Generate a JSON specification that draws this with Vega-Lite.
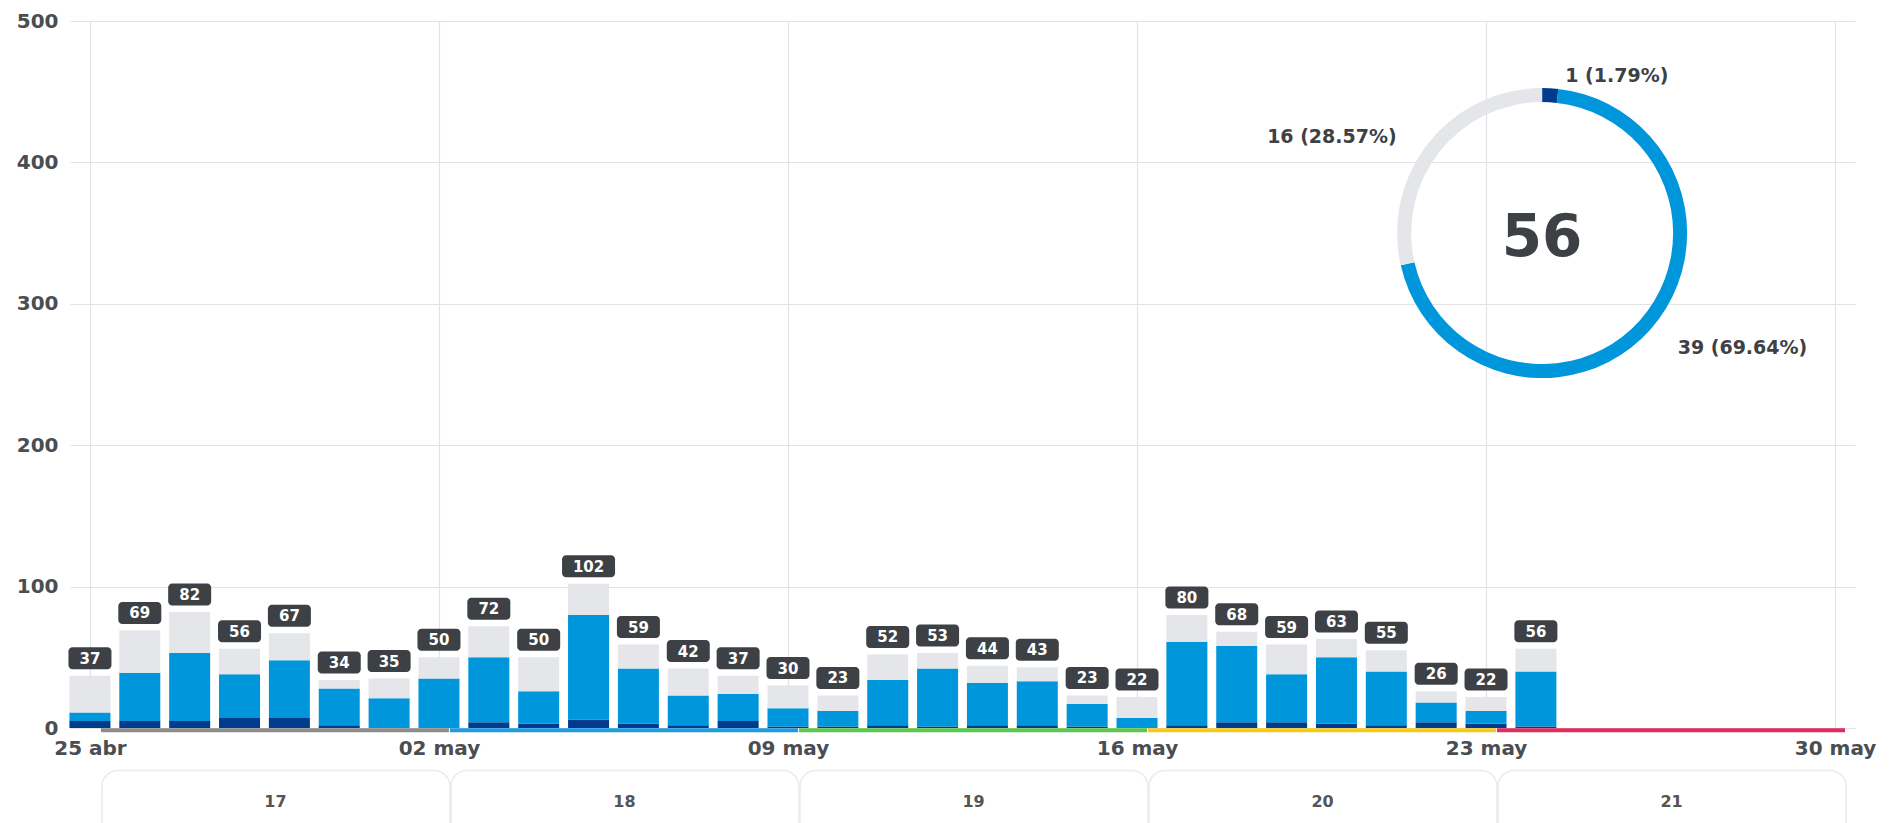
{
  "$schema": "https://vega.github.io/schema/vega-lite/v6.json",
  "width": 1785,
  "height": 707,
  "autosize": {"type": "none"},
  "padding": {"left": 70, "top": 21, "right": 43, "bottom": 95},
  "background": "#ffffff",
  "config": {
    "view": {"stroke": null},
    "font": "DejaVu Sans",
    "locale": {
      "time": {
        "dateTime": "%A, %e de %B de %Y, %X",
        "date": "%d/%m/%Y",
        "time": "%H:%M:%S",
        "periods": ["AM", "PM"],
        "days": ["domingo", "lunes", "martes", "miércoles", "jueves", "viernes", "sábado"],
        "shortDays": ["dom", "lun", "mar", "mié", "jue", "vie", "sáb"],
        "months": ["enero", "febrero", "marzo", "abril", "mayo", "junio", "julio", "agosto", "septiembre", "octubre", "noviembre", "diciembre"],
        "shortMonths": ["ene", "feb", "mar", "abr", "may", "jun", "jul", "ago", "sep", "oct", "nov", "dic"]
      }
    },
    "axis": {
      "domain": false,
      "ticks": false,
      "gridColor": "#e3e3e3",
      "gridWidth": 1.2,
      "labelFont": "DejaVu Sans",
      "labelFontWeight": "bold",
      "labelFontSize": 20,
      "labelColor": "#4a4d51"
    }
  },
  "datasets": {
    "diario": [
      {"fecha": "2021-04-25T00:00:00", "A": 5, "B": 6, "C": 26},
      {"fecha": "2021-04-26T00:00:00", "A": 5, "B": 34, "C": 30},
      {"fecha": "2021-04-27T00:00:00", "A": 5, "B": 48, "C": 29},
      {"fecha": "2021-04-28T00:00:00", "A": 7, "B": 31, "C": 18},
      {"fecha": "2021-04-29T00:00:00", "A": 7, "B": 41, "C": 19},
      {"fecha": "2021-04-30T00:00:00", "A": 2, "B": 26, "C": 6},
      {"fecha": "2021-05-01T00:00:00", "A": 0, "B": 21, "C": 14},
      {"fecha": "2021-05-02T00:00:00", "A": 0, "B": 35, "C": 15},
      {"fecha": "2021-05-03T00:00:00", "A": 4, "B": 46, "C": 22},
      {"fecha": "2021-05-04T00:00:00", "A": 3, "B": 23, "C": 24},
      {"fecha": "2021-05-05T00:00:00", "A": 6, "B": 74, "C": 22},
      {"fecha": "2021-05-06T00:00:00", "A": 3, "B": 39, "C": 17},
      {"fecha": "2021-05-07T00:00:00", "A": 2, "B": 21, "C": 19},
      {"fecha": "2021-05-08T00:00:00", "A": 5, "B": 19, "C": 13},
      {"fecha": "2021-05-09T00:00:00", "A": 1, "B": 13, "C": 16},
      {"fecha": "2021-05-10T00:00:00", "A": 1, "B": 11, "C": 11},
      {"fecha": "2021-05-11T00:00:00", "A": 2, "B": 32, "C": 18},
      {"fecha": "2021-05-12T00:00:00", "A": 1, "B": 41, "C": 11},
      {"fecha": "2021-05-13T00:00:00", "A": 2, "B": 30, "C": 12},
      {"fecha": "2021-05-14T00:00:00", "A": 2, "B": 31, "C": 10},
      {"fecha": "2021-05-15T00:00:00", "A": 1, "B": 16, "C": 6},
      {"fecha": "2021-05-16T00:00:00", "A": 0, "B": 7, "C": 15},
      {"fecha": "2021-05-17T00:00:00", "A": 2, "B": 59, "C": 19},
      {"fecha": "2021-05-18T00:00:00", "A": 4, "B": 54, "C": 10},
      {"fecha": "2021-05-19T00:00:00", "A": 4, "B": 34, "C": 21},
      {"fecha": "2021-05-20T00:00:00", "A": 3, "B": 47, "C": 13},
      {"fecha": "2021-05-21T00:00:00", "A": 2, "B": 38, "C": 15},
      {"fecha": "2021-05-22T00:00:00", "A": 4, "B": 14, "C": 8},
      {"fecha": "2021-05-23T00:00:00", "A": 3, "B": 9, "C": 10},
      {"fecha": "2021-05-24T00:00:00", "A": 1, "B": 39, "C": 16}
    ],
    "semanas": [
      {"semana": "17", "inicio": "2021-04-25T00:00:00"},
      {"semana": "18", "inicio": "2021-05-02T00:00:00"},
      {"semana": "19", "inicio": "2021-05-09T00:00:00"},
      {"semana": "20", "inicio": "2021-05-16T00:00:00"},
      {"semana": "21", "inicio": "2021-05-23T00:00:00"}
    ]
  },
  "layer": [
    {
      "data": {"name": "diario"},
      "transform": [{"fold": ["A", "B", "C"], "as": ["serie", "valor"]}],
      "mark": {"type": "bar", "width": 41},
      "encoding": {
        "x": {
          "field": "fecha",
          "type": "temporal",
          "title": null,
          "scale": {
            "domain": [
              {"year": 2021, "month": 4, "date": 24, "hours": 14, "minutes": 24},
              {"year": 2021, "month": 5, "date": 30, "hours": 9, "minutes": 36}
            ],
            "padding": 0
          },
          "axis": {
            "values": [
              {"year": 2021, "month": 4, "date": 25},
              {"year": 2021, "month": 5, "date": 2},
              {"year": 2021, "month": 5, "date": 9},
              {"year": 2021, "month": 5, "date": 16},
              {"year": 2021, "month": 5, "date": 23},
              {"year": 2021, "month": 5, "date": 30}
            ],
            "format": "%d %b",
            "labelPadding": 10,
            "labelFlush": false,
            "labelOverlap": false,
            "title": null
          }
        },
        "y": {
          "field": "valor",
          "type": "quantitative",
          "stack": "zero",
          "title": null,
          "scale": {"domain": [0, 500], "padding": 0},
          "axis": {"values": [0, 100, 200, 300, 400, 500], "labelPadding": 12, "title": null}
        },
        "color": {
          "field": "serie",
          "type": "nominal",
          "scale": {"domain": ["A", "B", "C"], "range": ["#003b8e", "#0096db", "#e4e6e9"]},
          "legend": null
        },
        "order": {"field": "serie", "sort": "ascending"}
      }
    },
    {
      "data": {"name": "semanas"},
      "mark": {"type": "bar", "fill": "#ffffff", "stroke": "#ebebeb", "strokeWidth": 1.5, "cornerRadius": 16, "timeUnitBandSize": 0.985, "xOffset": 11, "x2Offset": 11},
      "encoding": {
        "x": {"field": "inicio", "type": "temporal", "timeUnit": "yearweek", "title": null},
        "y": {"datum": -30, "type": "quantitative", "title": null},
        "y2": {"datum": -78}
      }
    },
    {
      "data": {"name": "semanas"},
      "mark": {"type": "text", "fontSize": 16, "fontWeight": "bold", "color": "#555555", "baseline": "middle", "xOffset": 11},
      "encoding": {
        "x": {"field": "inicio", "type": "temporal", "timeUnit": "yearweek", "bandPosition": 0.5, "title": null},
        "y": {"datum": -52, "type": "quantitative", "title": null},
        "text": {"field": "semana", "type": "nominal"}
      }
    },
    {
      "data": {"name": "semanas"},
      "mark": {"type": "bar", "height": 4, "yOffset": 2.3, "timeUnitBandSize": 0.96, "xOffset": 10, "x2Offset": 10},
      "encoding": {
        "x": {"field": "inicio", "type": "temporal", "timeUnit": "yearweek", "title": null},
        "y": {"datum": 0, "type": "quantitative", "title": null},
        "fill": {
          "field": "semana",
          "type": "nominal",
          "scale": {"domain": ["17", "18", "19", "20", "21"], "range": ["#8c8c8c", "#1c9be4", "#5cc84b", "#f6ca1b", "#e02b5e"]},
          "legend": null
        }
      }
    },
    {
      "data": {"name": "diario"},
      "transform": [
        {"fold": ["A", "B", "C"], "as": ["serie", "valor"]},
        {"aggregate": [{"op": "sum", "field": "valor", "as": "total"}], "groupby": ["fecha"]}
      ],
      "encoding": {
        "x": {"field": "fecha", "type": "temporal", "title": null},
        "y": {"field": "total", "type": "quantitative", "title": null}
      },
      "layer": [
        {
          "mark": {"type": "rect", "width": {"expr": "datum.total >= 100 ? 53 : 43"}, "height": 22, "cornerRadius": 4, "color": "#3d4145", "yOffset": -17.5}
        },
        {
          "mark": {"type": "text", "color": "#ffffff", "fontWeight": "bold", "fontSize": 15, "baseline": "middle", "dy": -17},
          "encoding": {"text": {"field": "total", "type": "quantitative"}}
        }
      ]
    },
    {
      "data": {"name": "diario"},
      "transform": [
        {"filter": "time(toDate(datum.fecha)) == time(datetime(2021, 4, 24))"},
        {"fold": ["A", "B", "C"], "as": ["serie", "valor"]}
      ],
      "encoding": {
        "x": {"datum": {"year": 2021, "month": 5, "date": 24, "hours": 3}, "type": "temporal", "title": null},
        "y": {"datum": 350, "type": "quantitative", "title": null}
      },
      "layer": [
        {
          "mark": {"type": "arc", "radius": 145, "radius2": 131},
          "encoding": {
            "theta": {"field": "valor", "type": "quantitative", "stack": true},
            "color": {"field": "serie", "type": "nominal", "legend": null},
            "order": {"field": "serie", "sort": "ascending"}
          }
        },
        {
          "transform": [
            {"joinaggregate": [{"op": "sum", "field": "valor", "as": "suma"}]},
            {"calculate": "datum.valor + ' (' + format(100 * datum.valor / datum.suma, '.2f') + '%)'", "as": "etiqueta"}
          ],
          "mark": {
            "type": "text",
            "radius": 163,
            "fontSize": 19,
            "fontWeight": "bold",
            "color": "#3d4145",
            "baseline": "middle",
            "dy": 6,
            "align": {"expr": "datum.serie == 'C' ? 'right' : 'left'"},
            "dx": {"expr": "datum.serie == 'C' ? -18 : 14"}
          },
          "encoding": {
            "theta": {"field": "valor", "type": "quantitative", "stack": true},
            "detail": {"field": "serie", "type": "nominal"},
            "order": {"field": "serie", "sort": "ascending"},
            "text": {"field": "etiqueta", "type": "nominal"}
          }
        },
        {
          "transform": [{"aggregate": [{"op": "sum", "field": "valor", "as": "total"}]}],
          "mark": {"type": "text", "fontSize": 58, "fontWeight": "bold", "color": "#3d4145", "baseline": "middle", "dy": 6},
          "encoding": {"text": {"field": "total", "type": "quantitative"}}
        }
      ]
    }
  ]
}
